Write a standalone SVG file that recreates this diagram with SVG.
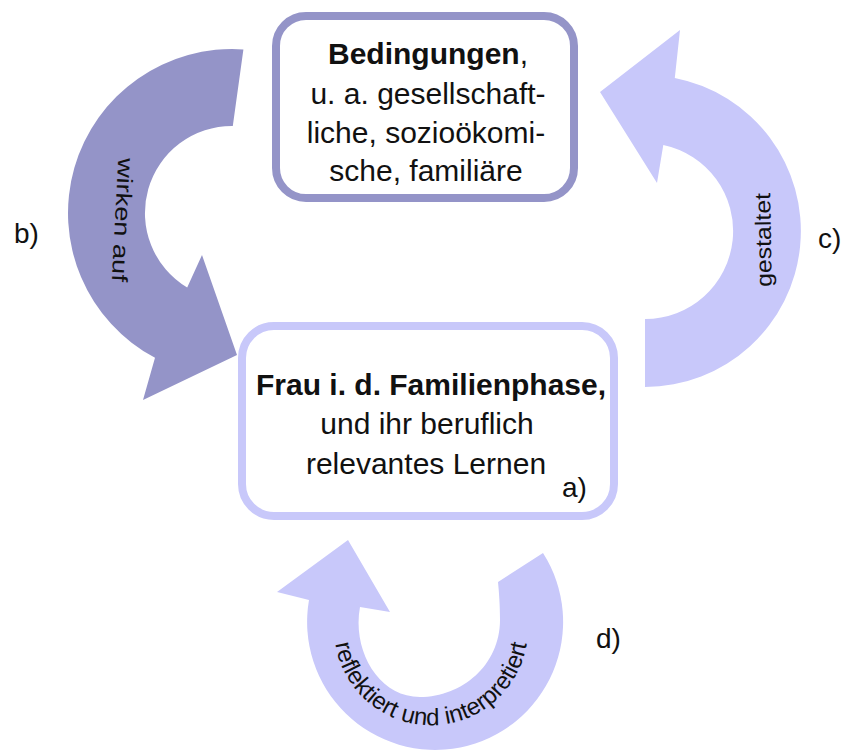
<svg xmlns="http://www.w3.org/2000/svg" width="850" height="756" viewBox="0 0 850 756">
  <style>
    .txt { font-family: "Liberation Sans", Arial, sans-serif; fill: #111; }
    .box-text { font-size: 30px; text-anchor: middle; }
    .bold { font-weight: bold; }
    .label { font-size: 28px; }
    .arrow-text { font-size: 22px; }
    .dark { fill: #9494c8; }
    .light { fill: #c8c8fa; }
  </style>
  <rect width="850" height="756" fill="#ffffff"/>

  <!-- curved arrows between the two boxes -->
  <g id="connectors">
    <!-- b) wirken auf: from conditions down to the woman -->
    <g id="arrow-b">
      <path class="dark" d="M 243.4 49.4 A 164 164 0 0 0 155 357.8 L 143 400 L 237 355 L 202 255 L 187.2 287.6 A 87 87 0 0 1 232.8 126 Z"/>
      <text class="txt arrow-text" transform="translate(123,220) rotate(93)" text-anchor="middle" y="8" textLength="124" lengthAdjust="spacingAndGlyphs">wirken auf</text>
    </g>
    <!-- c) gestaltet: from the woman back up to the conditions -->
    <g id="arrow-c">
      <path class="light" d="M 645 387 A 156 156 0 0 0 674.8 77.9 L 680 30 L 600 92 L 657 183 L 663.3 144.9 A 88 88 0 0 1 645 319 Z"/>
      <text class="txt arrow-text" transform="translate(764,240) rotate(-91)" text-anchor="middle" y="7" textLength="94" lengthAdjust="spacingAndGlyphs">gestaltet</text>
    </g>
    <!-- d) reflektiert und interpretiert: loop below the woman -->
    <g id="arrow-d">
      <path class="light" d="M 543 553 A 128 128 0 1 1 309 600 L 277 592 L 348 540 L 390 612 L 360 607 C 352 650 378 697 420 697 C 462 697 500 665 500 620 C 500 605 499 592 498 582 Z"/>
      <path id="loop-text-path" d="M 334.4 619.5 A 97 97 0 1 0 527.6 619.5" fill="none"/>
      <text class="txt" font-size="24"><textPath href="#loop-text-path" startOffset="50%" text-anchor="middle">reflektiert und interpretiert</textPath></text>
    </g>
  </g>

  <!-- conditions -->
  <g id="node-bedingungen">
    <rect x="276" y="16" width="298" height="182" rx="30" fill="#ffffff" stroke="#9494c8" stroke-width="8"/>
    <text class="txt box-text" x="428" y="64"><tspan class="bold">Bedingungen</tspan>,</text>
    <text class="txt box-text" x="428" y="104">u. a. gesellschaft-</text>
    <text class="txt box-text" x="426" y="143">liche, sozioökomi-</text>
    <text class="txt box-text" x="426" y="181">sche, familiäre</text>
  </g>

  <!-- the woman in the family phase -->
  <g id="node-frau">
    <rect x="242" y="326" width="372" height="190" rx="32" fill="#ffffff" stroke="#c8c8fa" stroke-width="8"/>
    <text class="txt box-text bold" x="431" y="395">Frau i. d. Familienphase,</text>
    <text class="txt box-text" x="427" y="434">und ihr beruflich</text>
    <text class="txt box-text" x="426" y="474">relevantes Lernen</text>
    <text class="txt label" x="562" y="497">a)</text>
  </g>

  <!-- side labels -->
  <g id="labels">
    <text class="txt label" x="14" y="243">b)</text>
    <text class="txt label" x="818" y="248">c)</text>
    <text class="txt label" x="596" y="648">d)</text>
  </g>
</svg>
